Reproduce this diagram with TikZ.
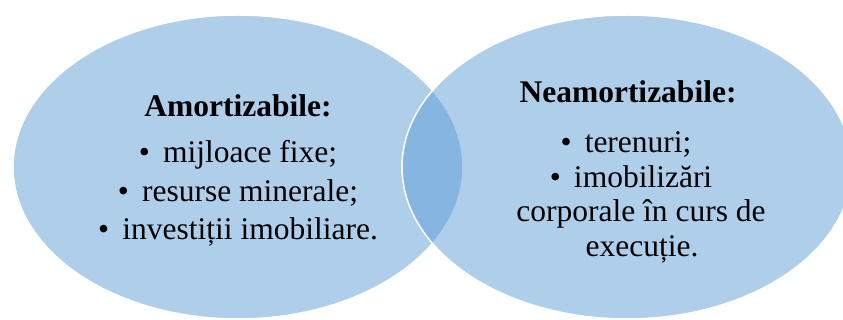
\documentclass[tikz,border=0pt]{standalone}
\usepackage{fontspec}
\setmainfont{Liberation Serif}
\usepackage{xcolor}
\usepackage{tikz}
\usetikzlibrary{positioning}
\definecolor{VennBlue}{RGB}{91, 155, 213}
\newcommand{\vbul}{\textbullet\hspace{0.42em}}
\tikzset{
	venn/.style={fill=VennBlue, fill opacity=0.49, draw=white, line width=1.5pt},
	heading/.style={anchor=base, font=\fontsize{31.5}{36}\selectfont\bfseries},
	item/.style={anchor=base, font=\fontsize{31.5}{36}\selectfont},
}

\begin{document}
\begin{tikzpicture}[x=1pt, y=1pt]
\useasboundingbox (0,0) rectangle (843,320);

% the two circles of the diagram
\draw[venn] (238,153) ellipse [x radius=225, y radius=152];
\draw[venn] (627,153) ellipse [x radius=225, y radius=152];

% left side
\node[heading] (amort) at (238,203) {Amortizabile:};
\node[item] (mijloace) at (238,157) {\vbul mijloace fixe;};
\node[item] (resurse) at (238,118) {\vbul resurse minerale;};
\node[item] (invest) at (238,80) {\vbul investiții imobiliare.};

% right side
\node[heading] (neamort) at (628,217) {Neamortizabile:};
\node[item] (terenuri) at (626,167) {\vbul terenuri;};
\node[item] (imobil) at (631,132) {\vbul imobilizări};
\node[item] (corporale) at (641,98) {corporale în curs de};
\node[item] (executie) at (642,63) {execuție.};
\end{tikzpicture}
\end{document}
